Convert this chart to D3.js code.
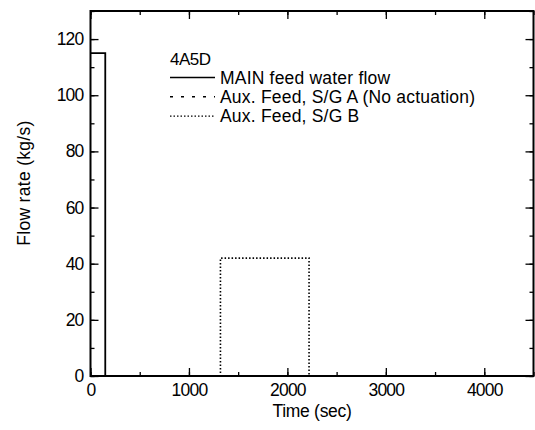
<!DOCTYPE html>
<html>
    <head>
        <meta charset="utf-8">
        <title>4A5D flow rate</title>
        <style>
body {
    margin: 0;
    background-color: white;
}

text {
    font-family: "Liberation Sans", Arial, sans-serif;
    fill: black;
}
</style>
        <script src="https://cdn.jsdelivr.net/npm/d3@7"></script>
    </head>
    <body>
        <script>
// data
var mainTime = [0, 150, 150, 4500];
var mainFlow = [115, 115, 0, 0];
var auxATime = [0, 4500];
var auxAFlow = [0, 0];
var auxBTime = [0, 1320, 1320, 2220, 2220, 4500];
var auxBFlow = [0, 0, 42, 42, 0, 0];

var xTicks = [0, 1000, 2000, 3000, 4000];
var yTicks = [0, 20, 40, 60, 80, 100, 120];

var legendTitle = "4A5D";
var legendNames = ["MAIN feed water flow", "Aux. Feed, S/G A (No actuation)", "Aux. Feed, S/G B"];
var legendDash = [null, "3,8", "1.5,2"];

var width = 535,
    height = 430;
var margin = {left: 90.5, right: 1.5, top: 11, bottom: 54};

var svg = d3.select('body')
    .append('svg')
    .attr('width', width)
    .attr('height', height);

var x = d3.scaleLinear()
    .domain([0, 4500])
    .range([margin.left, width - margin.right]);

var y = d3.scaleLinear()
    .domain([0, 130])
    .range([height - margin.bottom, margin.top]);

var toPoints = function(ts, vs) {
    return ts.map(function(t, i) { return [t, vs[i]]; });
};

var line = d3.line()
    .x(function(d) { return x(d[0]); })
    .y(function(d) { return y(d[1]); });

// series
var series = [
    toPoints(mainTime, mainFlow),
    toPoints(auxATime, auxAFlow),
    toPoints(auxBTime, auxBFlow)
];

svg.selectAll('path.series')
    .data(series)
    .enter()
    .append('path')
    .attr('class', 'series')
    .attr('d', line)
    .attr('fill', 'none')
    .attr('stroke', 'black')
    .attr('stroke-width', function(d, i) { return i === 0 ? 1.8 : 1.6; })
    .attr('stroke-dasharray', function(d, i) { return i === 1 ? '5,4' : legendDash[i]; });

// axes, ticks inward on all four sides
var xMinor = d3.range(0, 4501, 500);
var yMinor = d3.range(0, 131, 10);

var axisStyle = function(g) {
    g.select('.domain').remove();
    g.selectAll('.tick line').attr('stroke', 'black').attr('stroke-width', 1.3);
};

var labelStyle = function(sel) {
    sel.attr('font-size', 17.5)
        .attr('letter-spacing', -0.8)
        .attr('font-family', '"Liberation Sans", Arial, sans-serif');
};

svg.append('g')
    .attr('transform', 'translate(0,' + y(0) + ')')
    .call(d3.axisBottom(x).tickValues(xMinor).tickSize(-4).tickFormat(''))
    .call(axisStyle);
svg.append('g')
    .attr('transform', 'translate(0,' + y(0) + ')')
    .call(d3.axisBottom(x).tickValues(xTicks).tickSize(-8).tickPadding(8).tickFormat(d3.format('d')))
    .call(axisStyle)
    .selectAll('text')
    .call(labelStyle);

svg.append('g')
    .attr('transform', 'translate(0,' + y(130) + ')')
    .call(d3.axisTop(x).tickValues(xMinor).tickSize(-4).tickFormat(''))
    .call(axisStyle);
svg.append('g')
    .attr('transform', 'translate(0,' + y(130) + ')')
    .call(d3.axisTop(x).tickValues(xTicks).tickSize(-8).tickFormat(''))
    .call(axisStyle);

svg.append('g')
    .attr('transform', 'translate(' + x(0) + ',0)')
    .call(d3.axisLeft(y).tickValues(yMinor).tickSize(-4).tickFormat(''))
    .call(axisStyle);
svg.append('g')
    .attr('transform', 'translate(' + x(0) + ',0)')
    .call(d3.axisLeft(y).tickValues(yTicks).tickSize(-8).tickPadding(7).tickFormat(d3.format('d')))
    .call(axisStyle)
    .selectAll('text')
    .call(labelStyle);

svg.append('g')
    .attr('transform', 'translate(' + x(4500) + ',0)')
    .call(d3.axisRight(y).tickValues(yMinor).tickSize(-4).tickFormat(''))
    .call(axisStyle);
svg.append('g')
    .attr('transform', 'translate(' + x(4500) + ',0)')
    .call(d3.axisRight(y).tickValues(yTicks).tickSize(-8).tickFormat(''))
    .call(axisStyle);

// frame
svg.append('rect')
    .attr('x', x(0))
    .attr('y', y(130))
    .attr('width', x(4500) - x(0))
    .attr('height', y(0) - y(130))
    .attr('fill', 'none')
    .attr('stroke', 'black')
    .attr('stroke-width', 2);

// axis titles
svg.append('text')
    .attr('x', 312)
    .attr('y', 417)
    .attr('text-anchor', 'middle')
    .attr('font-size', 17.5)
    .attr('letter-spacing', -0.3)
    .text('Time (sec)');

svg.append('text')
    .attr('transform', 'translate(30,183) rotate(-90)')
    .attr('text-anchor', 'middle')
    .attr('font-size', 17.5)
    .attr('letter-spacing', 0.3)
    .text('Flow rate (kg/s)');

// legend
var legend = svg.append('g')
    .attr('transform', 'translate(170,0)');

legend.append('text')
    .attr('x', 0)
    .attr('y', 65)
    .attr('font-size', 17)
    .attr('letter-spacing', -0.5)
    .text(legendTitle);

var rows = legend.selectAll('g.row')
    .data(legendNames)
    .enter()
    .append('g')
    .attr('class', 'row')
    .attr('transform', function(d, i) { return 'translate(0,' + (83.5 + i * 19.3) + ')'; });

rows.append('line')
    .attr('x1', 0)
    .attr('x2', 45)
    .attr('y1', -6)
    .attr('y2', -6)
    .attr('stroke', 'black')
    .attr('stroke-width', function(d, i) { return i === 2 ? 1.2 : 1.5; })
    .attr('stroke-dasharray', function(d, i) { return legendDash[i]; });

rows.append('text')
    .attr('x', 50)
    .attr('y', 0)
    .attr('font-size', 17.5)
    .attr('letter-spacing', 0.2)
    .text(function(d) { return d; });

        </script>
    </body>
</html>
